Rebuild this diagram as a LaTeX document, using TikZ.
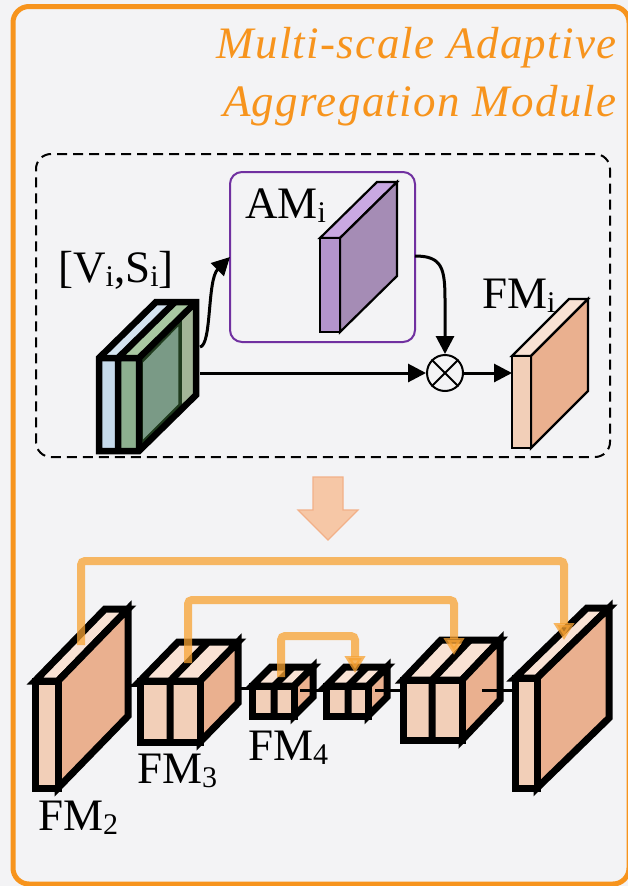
\documentclass[tikz,border=0pt]{standalone}
\usepackage{fontspec}
\setmainfont{Liberation Serif}
\newfontfamily\ttlfont{Liberation Serif Italic}[LetterSpace=3.0]
\usetikzlibrary{arrows.meta,calc}

\definecolor{frameor}{HTML}{F7941D}
\definecolor{bgc}{HTML}{F3F3F5}
\definecolor{fmfront}{HTML}{F2CFB8}
\definecolor{fmtop}{HTML}{F9E2D4}
\definecolor{fmright}{HTML}{EAB08F}
\definecolor{amfront}{HTML}{B394CC}
\definecolor{amtop}{HTML}{C9A8E2}
\definecolor{amright}{HTML}{A58CB5}
\definecolor{ampurple}{HTML}{7030A0}
\definecolor{skipor}{HTML}{F8A232}
\definecolor{bigarrow}{HTML}{F6C7A6}
\definecolor{bigarrowd}{HTML}{F2B088}
\definecolor{vblue}{HTML}{C6DAEB}
\definecolor{vbluetop}{HTML}{D4E3F0}
\definecolor{sgreen}{HTML}{8DB08F}
\definecolor{sgreentop}{HTML}{A9C8A2}
\definecolor{sgreenr}{HTML}{A2B597}
\definecolor{sgreeni}{HTML}{7A9A86}
\definecolor{sgreend}{HTML}{1F3A1D}

\newcommand\mycube[9]{%
  \filldraw[fill=#8] (#1,#2) -- (#1+#3,#2) -- (#1+#3+#5,#2-#6) -- (#1+#5,#2-#6) -- cycle;
  \filldraw[fill=#9] (#1+#3,#2) -- (#1+#3+#5,#2-#6) -- (#1+#3+#5,#2-#6+#4) -- (#1+#3,#2+#4) -- cycle;
  \filldraw[fill=#7] (#1,#2) rectangle (#1+#3,#2+#4);
}
\newcommand\mycubediv[5]{%
  \draw (#1,#2+#3) -- (#1,#2) -- (#1+#4,#2-#5);
}
\newcommand\subtxt[1]{\raisebox{-4pt}{\fontsize{30}{30}\selectfont #1}}

\tikzset{
 lbl/.style={font=\fontsize{45}{45}\selectfont, anchor=base west, inner sep=0pt},
 ttl/.style={font=\ttlfont\fontsize{45}{45}\selectfont, text=frameor, anchor=base east, inner sep=0pt},
 arr/.style={line width=3pt, -{Triangle[length=18pt,width=18pt]}},
 skipline/.style={draw=skipor, line width=8pt, opacity=0.75, rounded corners=4pt, -{Triangle[length=17pt,width=20pt]}},
 cubeS/.style={line width=2.2pt, line join=miter},
 cubeL/.style={line width=7pt, line join=miter},
 linkline/.style={line width=3pt},
}

\begin{document}
\begin{tikzpicture}[x=1pt,y=-1pt]
\useasboundingbox (0,0) rectangle (628,886);
\fill[bgc] (0,0) rectangle (628,886);
% outer frame
\draw[frameor, line width=5pt, rounded corners=16pt] (13,6.5) rectangle (629,884);

% title
\node[ttl] (t1) at (617,58) {Multi-scale Adaptive};
\node[ttl] (t2) at (617,116) {Aggregation Module};

% dashed box and purple box
\node[draw, dash pattern=on 10pt off 6pt, line width=2pt, rounded corners=15pt,
      minimum width=574pt, minimum height=303pt, inner sep=0pt] (dbox) at (323,305.5) {};
\node[draw=ampurple, line width=2pt, rounded corners=12pt,
      minimum width=185pt, minimum height=170pt, inner sep=0pt] (ambox) at (322.5,257) {};

% AM cuboid and FM_i cuboid
\begin{scope}[cubeS]
\mycube{320}{238}{20}{94}{57}{56}{amfront}{amtop}{amright}
\mycube{512}{356}{19}{92}{57}{57}{fmfront}{fmtop}{fmright}
\end{scope}

% input cuboid [V,S]
\begin{scope}[line width=6.5pt, line join=miter]
 \fill[vbluetop] (99,358) -- (118,358) -- (175,302) -- (156,302) -- cycle;
 \fill[sgreentop] (118,358) -- (139,358) -- (196,302) -- (175,302) -- cycle;
 \fill[sgreenr] (139,358) -- (196,302) -- (196,395) -- (139,451) -- cycle;
 \filldraw[fill=sgreeni, draw=sgreend, line width=3.5pt] (141,362) -- (180,322) -- (180,405) -- (141,444) -- cycle;
 \fill[vblue] (99,358) rectangle (118,451);
 \fill[sgreen] (118,358) rectangle (139,451);
 \draw (99,358) -- (156,302) -- (196,302) -- (196,395) -- (139,451) -- (99,451) -- cycle;
 \draw (99,358) -- (139,358) -- (196,302) (139,358) -- (139,451) (118,451) -- (118,358) -- (175,302);
\end{scope}

% otimes
\node[circle, draw, line width=2pt, minimum size=36pt, inner sep=0pt] (ot) at (445,373) {};
\draw[line width=2pt] (ot.north west) -- (ot.south east) (ot.north east) -- (ot.south west);

% connectors top
\coordinate (inT) at (200,347);
\coordinate (amL) at (230,257);
\coordinate (inR) at (200,373);
\coordinate (amR) at (415,256);
\coordinate (fmiL) at (512,373);
\draw[arr] (inT) .. controls (212,345) and (207,280) .. (amL);
\draw[arr] (inR) -- (ot.west);
\draw[arr] (ot.east) -- (fmiL);
\draw[arr] (amR) .. controls (442,256) and (445,268) .. (445,300) -- (ot.north);

% labels top
\node[lbl] (lvs) at (58,282) {[V\subtxt{i},S\subtxt{i}]};
\node[lbl] (lam) at (245,218) {AM\subtxt{i}};
\node[lbl] (lfm) at (482,308) {FM\subtxt{i}};

% big down arrow
\filldraw[fill=bigarrow, draw=bigarrowd, line width=1.2pt, line join=miter]
  (313,477) -- (343,477) -- (343,510) -- (358,510) -- (328,540) -- (298,510) -- (313,510) -- cycle;

% bottom cuboids
\begin{scope}[cubeL]
\mycube{35}{681}{23}{107}{70}{72}{fmfront}{fmtop}{fmright}
\mycube{140}{681}{60}{61}{38}{39}{fmfront}{fmtop}{fmright}
\mycubediv{170}{681}{61}{38}{39}
\mycube{252}{686}{42}{30}{19}{19}{fmfront}{fmtop}{fmright}
\mycubediv{274}{686}{30}{19}{19}
\mycube{326}{686}{42}{30}{19}{19}{fmfront}{fmtop}{fmright}
\mycubediv{348}{686}{30}{19}{19}
\mycube{403}{680}{59}{60}{38}{40}{fmfront}{fmtop}{fmright}
\mycubediv{432}{680}{60}{38}{40}
\mycube{515}{678}{22}{110}{72}{70}{fmfront}{fmtop}{fmright}
\end{scope}

% links between cuboids
\coordinate (c1o) at (128,685); \coordinate (c2i) at (140,685);
\coordinate (c2o) at (238,688); \coordinate (c3i) at (252,688);
\coordinate (c3o) at (300,690); \coordinate (c4i) at (326,690);
\coordinate (c4o) at (375,690); \coordinate (c5i) at (403,690);
\coordinate (c5o) at (482,690); \coordinate (c6i) at (515,690);
\draw[linkline] (c1o) -- (c2i);
\draw[linkline] (c2o) -- (c3i);
\draw[linkline] (c3o) -- (c4i);
\draw[linkline] (c4o) -- (c5i);
\draw[linkline] (c5o) -- (c6i);

% skip connections
\coordinate (s1a) at (81,645);  \coordinate (s1b) at (564,640);
\coordinate (s2a) at (188,663); \coordinate (s2b) at (454,655);
\coordinate (s3a) at (281,677); \coordinate (s3b) at (355,673);
\draw[skipline] (s1a) -- (81,561) -- (564,561) -- (s1b);
\draw[skipline] (s2a) -- (188,600) -- (454,600) -- (s2b);
\draw[skipline] (s3a) -- (281,636) -- (355,636) -- (s3b);

% bottom labels
\node[lbl] (lfm2) at (38,830) {FM\subtxt{2}};
\node[lbl] (lfm3) at (137,783) {FM\subtxt{3}};
\node[lbl] (lfm4) at (248,760) {FM\subtxt{4}};
\end{tikzpicture}
\end{document}
